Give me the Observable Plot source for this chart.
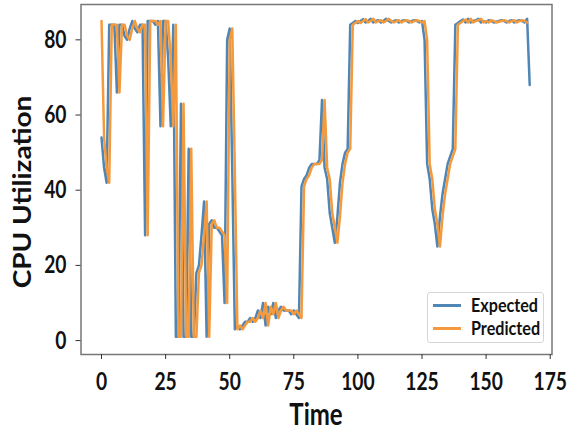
<!DOCTYPE html>
<html>
<head>
<meta charset="utf-8">
<script src="https://cdn.jsdelivr.net/npm/d3@7"></script>
<script src="https://cdn.jsdelivr.net/npm/@observablehq/plot@0.6"></script>
<style>
  body { margin: 0; background: #fff; }
  #wrap { position: relative; width: 569px; height: 434px; overflow: hidden; }
  .legend { position: absolute; left: 427px; top: 292px; width: 117px; height: 51px;
    border: 1px solid #d6d6d6; border-radius: 3px; background: rgba(255,255,255,0.9);
    box-sizing: border-box; font-family: Lato, sans-serif; font-weight: bold; font-size: 19px; color: #111; }
  .row { position: absolute; left: 0; height: 20px; width: 100%; }
  .sw { position: absolute; left: 5px; top: 10px; width: 28px; height: 3px; }
  .lab { position: absolute; left: 43px; top: -1px; transform: scaleX(0.85); transform-origin: left center; white-space: nowrap; }
</style>
</head>
<body>
<div id="wrap"></div>
<script>
// ---- data ----
const seriesNames = ["Expected", "Predicted"];
const seriesColors = ["#4f86b6", "#f59a3c"];
const xTicks = [0, 25, 50, 75, 100, 125, 150, 175];
const yTicks = [0, 20, 40, 60, 80];

const expected = [
  54, 46, 42, 84, 84, 84, 66, 84, 84, 81, 80, 83, 85, 83, 82, 84, 84, 28, 85, 85,
  85, 84, 85, 57, 85, 85, 75, 57, 84, 1, 1, 63, 1, 1, 51, 1, 1, 18, 20, 28,
  37, 1, 31, 32, 30, 30, 29, 28, 10, 80, 83, 45, 3, 4, 3, 4, 5, 5, 6, 5,
  6, 8, 6, 10, 4, 9, 7, 10, 6, 8, 9, 8, 8, 8, 7, 8, 7, 6, 41, 43,
  44, 46, 47, 47, 47, 48, 64, 46, 43, 34, 30, 26, 33, 42, 47, 50, 51, 84,
  84.5, 85, 84.5, 85, 85.5, 84.6, 85, 85.6, 84.6, 85, 85.2, 84.6, 85, 85.6, 85, 84.6, 85, 85.2, 84.6, 85,
  85.2, 85, 84.6, 85, 85.2, 85, 84.6,
  85, 80, 47, 43, 35, 31, 25, 33, 39, 43, 47, 49, 51, 84,
  84.5, 85, 85.4, 84.6, 85.6, 84.6, 85, 85.2, 85.6, 84.6, 85, 84.6, 85.2, 85, 84.6, 84.8, 85, 85.2, 85, 84.6,
  85, 85.2, 84.6, 85, 85.2, 85, 84.6, 85.6,
  68
];

const predicted = [
  85,
  54, 46, 42, 84, 84, 84, 66, 84, 84, 81, 80, 83, 85, 83, 82, 84, 84, 28, 85, 85,
  85, 84, 85, 57, 85, 85, 75, 57, 84, 1, 1, 63, 1, 1, 51, 1, 1, 18, 20, 28,
  37, 1, 31, 32, 30, 30, 29, 28, 10, 80, 83, 45, 3, 4, 3, 4, 5, 5, 6, 5,
  6, 8, 6, 10, 4, 9, 7, 10, 6, 8, 9, 8, 8, 8, 7, 8, 7, 6, 41, 43,
  44, 46, 47, 47, 47, 48, 64, 46, 43, 34, 30, 26, 33, 42, 47, 50, 51, 84,
  84.5, 85, 84.5, 85, 85.5, 84.6, 85, 85.6, 84.6, 85, 85.2, 84.6, 85, 85.6, 85, 84.6, 85, 85.2, 84.6, 85,
  85.2, 85, 84.6, 85, 85.2, 85, 84.6,
  85, 80, 47, 43, 35, 31, 25, 33, 39, 43, 47, 49, 51, 84,
  84.5, 85, 85.4, 84.6, 85.6, 84.6, 85, 85.2, 85.6, 84.6, 85, 84.6, 85.2, 85, 84.6, 84.8, 85, 85.2, 85, 84.6,
  85, 85.2, 84.6, 85, 85.2, 85, 84.6
];

const rowsE = expected.map((v, i) => ({t: i, v}));
const rowsP = predicted.map((v, i) => ({t: i, v}));

const chart = Plot.plot({
  width: 569,
  height: 434,
  marginLeft: 80.5,
  marginRight: 17.5,
  marginTop: 4,
  marginBottom: 80,
  style: {fontFamily: "Lato, sans-serif", fontWeight: "bold", fontSize: "25px", color: "#111", background: "#fff"},
  x: {domain: [-8, 175.7], label: null},
  y: {domain: [-3.7, 89.4], label: null},
  marks: [
    Plot.line(rowsE, {x: "t", y: "v", stroke: seriesColors[0], strokeWidth: 2.5}),
    Plot.line(rowsP, {x: "t", y: "v", stroke: seriesColors[1], strokeWidth: 2.5}),
    Plot.frame({stroke: "#777", strokeWidth: 1.5}),
    Plot.axisX({ticks: xTicks, tickSize: 5, tickPadding: 13, label: null, stroke: "#333"}),
    Plot.axisY({ticks: yTicks, tickSize: 5, tickPadding: 9.5, label: null, stroke: "#333"})
  ]
});

// Narrow the glyphs to match the reference's condensed lettering
chart.querySelectorAll('g[aria-label$="tick label"] text').forEach(t => {
  const tr = t.getAttribute("transform");
  if (tr) t.setAttribute("transform", tr + " scale(0.77,1)");
});

const svg = d3.select(chart);
svg.append("text")
  .attr("transform", "translate(316,425) scale(0.8,1)")
  .attr("text-anchor", "middle")
  .style("font-size", "30px")
  .attr("fill", "#111")
  .text("Time");
svg.append("text")
  .attr("transform", "translate(31,192) scale(0.85,1) rotate(-90)")
  .attr("text-anchor", "middle")
  .style("font-size", "28px")
  .attr("fill", "#111")
  .text("CPU Utilization");

const wrap = document.getElementById("wrap");
wrap.appendChild(chart);

const leg = document.createElement("div");
leg.className = "legend";
seriesNames.forEach((name, i) => {
  const row = document.createElement("div");
  row.className = "row";
  row.style.top = (1 + i * 23) + "px";
  const sw = document.createElement("div");
  sw.className = "sw";
  sw.style.background = seriesColors[i];
  const lab = document.createElement("div");
  lab.className = "lab";
  lab.textContent = name;
  row.appendChild(sw);
  row.appendChild(lab);
  leg.appendChild(row);
});
wrap.appendChild(leg);
</script>
</body>
</html>
